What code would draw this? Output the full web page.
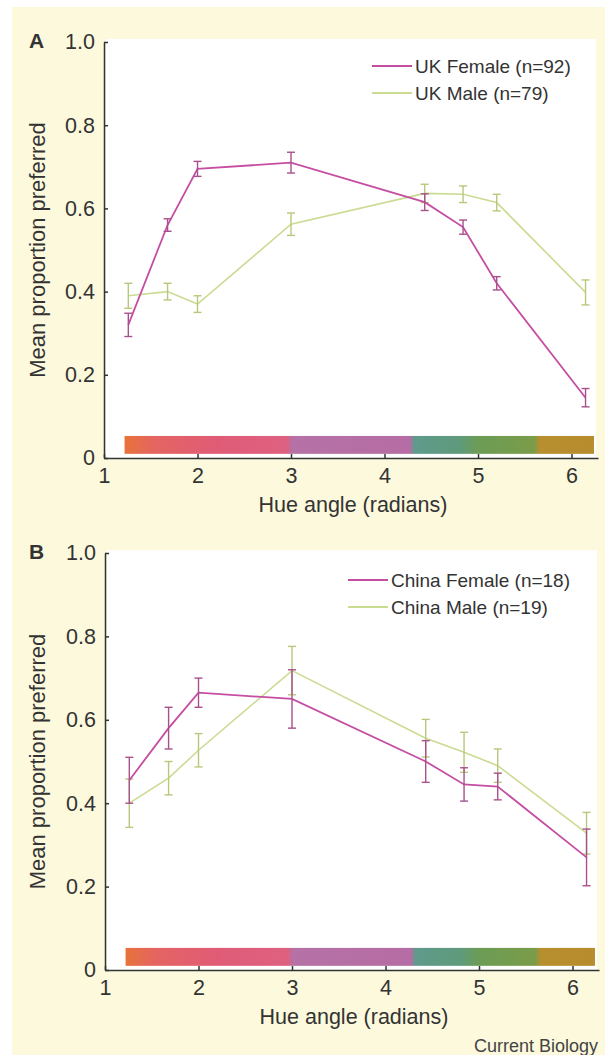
<!DOCTYPE html>
<html>
<head>
<meta charset="utf-8">
<script src="https://cdn.jsdelivr.net/npm/d3@7"></script>
<style>
  body { margin: 0; background: #fff; }
  svg { display: block; font-family: 'Liberation Sans', Arial, sans-serif; }
</style>
</head>
<body>
<div id="chart"></div>
<script>
// hue angle of each stimulus (radians)
var hueAngles = [1.26, 1.68, 2.0, 3.0, 4.43, 4.84, 5.2, 6.15]

// panel A, UK
var ukFemaleMean = [0.32, 0.56, 0.695, 0.71, 0.615, 0.555, 0.42, 0.145]
var ukFemaleErr = [0.028, 0.015, 0.018, 0.025, 0.02, 0.017, 0.016, 0.022]
var ukMaleMean = [0.39, 0.40, 0.37, 0.562, 0.636, 0.634, 0.614, 0.398]
var ukMaleErr = [0.03, 0.02, 0.02, 0.027, 0.022, 0.02, 0.02, 0.03]

// panel B, China
var cnFemaleMean = [0.455, 0.58, 0.665, 0.65, 0.50, 0.445, 0.44, 0.27]
var cnFemaleErr = [0.055, 0.05, 0.035, 0.07, 0.05, 0.04, 0.032, 0.068]
var cnMaleMean = [0.40, 0.46, 0.527, 0.718, 0.556, 0.522, 0.49, 0.328]
var cnMaleErr = [0.058, 0.04, 0.04, 0.058, 0.045, 0.048, 0.04, 0.05]

var yTicks = [0, 0.2, 0.4, 0.6, 0.8, 1.0]
var xTicks = [1, 2, 3, 4, 5, 6]

// colour strip under the curves: hue angle -> colour
var stripStops = [1.22, 1.55, 2.2, 2.95, 3.02, 4.27, 4.32, 4.8, 5.0, 5.6, 5.66, 6.24]
var stripColors = ['#e8733a', '#e46462', '#e05c76', '#de6080', '#b572a6', '#b66ca4',
  '#5f9a8c', '#5f9a7c', '#6c9c56', '#7a9c48', '#b88f2e', '#b68c2c']

var femaleColor = '#c54ea2'
var femaleBar = '#a8508c'
var maleColor = '#cadb92'
var maleBar = '#b8c87a'

var width = 605
var height = 1055

var svg = d3
  .select('#chart')
  .append('svg')
  .attr('width', width)
  .attr('height', height)

// cream page
svg
  .append('rect')
  .attr('x', 12)
  .attr('y', 7)
  .attr('width', width - 12)
  .attr('height', height - 7)
  .attr('fill', '#fcf9dd')

var defs = svg.append('defs')

var panels = [
  {
    letter: 'A',
    top: 42,
    bottom: 458,
    left: 104,
    right: 598,
    female: ukFemaleMean,
    femaleErr: ukFemaleErr,
    male: ukMaleMean,
    maleErr: ukMaleErr,
    femaleLabel: 'UK Female (n=92)',
    maleLabel: 'UK Male (n=79)',
    legendX: 372,
    legendY: 66
  },
  {
    letter: 'B',
    top: 553,
    bottom: 970,
    left: 105,
    right: 599,
    female: cnFemaleMean,
    femaleErr: cnFemaleErr,
    male: cnMaleMean,
    maleErr: cnMaleErr,
    femaleLabel: 'China Female (n=18)',
    maleLabel: 'China Male (n=19)',
    legendX: 348,
    legendY: 580
  }
]

panels.forEach(function(p, i) {
  var xPositionScale = d3
    .scaleLinear()
    .domain([1, 2 * Math.PI])
    .range([p.left, p.right])
  var yPositionScale = d3
    .scaleLinear()
    .domain([0, 1])
    .range([p.bottom, p.top])

  var g = svg.append('g')

  // white plotting area
  g.append('rect')
    .attr('x', p.left + 2)
    .attr('y', p.top - 3)
    .attr('width', p.right - p.left - 4)
    .attr('height', p.bottom - p.top + 3)
    .attr('fill', '#fff')

  // hue strip
  var gradId = 'strip' + i
  var x0 = xPositionScale(stripStops[0])
  var x1 = xPositionScale(stripStops[stripStops.length - 1])
  defs
    .append('linearGradient')
    .attr('id', gradId)
    .attr('gradientUnits', 'userSpaceOnUse')
    .attr('x1', x0)
    .attr('x2', x1)
    .attr('y1', 0)
    .attr('y2', 0)
    .selectAll('stop')
    .data(stripStops)
    .enter()
    .append('stop')
    .attr('offset', d => (xPositionScale(d) - x0) / (x1 - x0))
    .attr('stop-color', (d, k) => stripColors[k])

  g.append('rect')
    .attr('x', x0)
    .attr('width', x1 - x0)
    .attr('y', yPositionScale(0.053))
    .attr('height', yPositionScale(0.01) - yPositionScale(0.053))
    .attr('fill', 'url(#' + gradId + ')')

  // axes
  var xAxis = d3
    .axisBottom(xPositionScale)
    .tickValues(xTicks)
    .tickFormat(d3.format('d'))
    .tickSize(-4)
    .tickSizeOuter(0)
    .tickPadding(10)
  g.append('g')
    .attr('class', 'axis x-axis')
    .attr('transform', 'translate(0,' + p.bottom + ')')
    .call(xAxis)

  var yAxis = d3
    .axisLeft(yPositionScale)
    .tickValues(yTicks)
    .tickFormat(d => (d === 0 ? '0' : d3.format('.1f')(d)))
    .tickSize(-4)
    .tickSizeOuter(0)
    .tickPadding(9)
  g.append('g')
    .attr('class', 'axis y-axis')
    .attr('transform', 'translate(' + p.left + ',0)')
    .call(yAxis)

  g.selectAll('.axis path, .axis line')
    .attr('stroke', '#333')
    .attr('stroke-width', 1.5)
  g.selectAll('.axis text')
    .attr('font-size', 21.5)
    .attr('fill', '#333')
    .attr('font-family', "'Liberation Sans', Arial, sans-serif")

  // series
  var series = [
    { mean: p.male, err: p.maleErr, color: maleColor, bar: maleBar, width: 1.6 },
    { mean: p.female, err: p.femaleErr, color: femaleColor, bar: femaleBar, width: 1.8 }
  ]

  var line = d3
    .line()
    .x(d => xPositionScale(d[0]))
    .y(d => yPositionScale(d[1]))

  series.forEach(function(s) {
    var pts = hueAngles.map((h, k) => [h, s.mean[k], s.err[k]])
    g.append('path')
      .datum(pts)
      .attr('d', line)
      .attr('fill', 'none')
      .attr('stroke', s.color)
      .attr('stroke-width', s.width)

    var eb = g
      .append('g')
      .selectAll('g')
      .data(pts)
      .enter()
      .append('g')
      .attr('stroke', s.bar)
      .attr('stroke-width', 1.4)
    eb.append('line')
      .attr('x1', d => xPositionScale(d[0]))
      .attr('x2', d => xPositionScale(d[0]))
      .attr('y1', d => yPositionScale(d[1] - d[2]))
      .attr('y2', d => yPositionScale(d[1] + d[2]))
    eb.append('line')
      .attr('x1', d => xPositionScale(d[0]) - 4)
      .attr('x2', d => xPositionScale(d[0]) + 4)
      .attr('y1', d => yPositionScale(d[1] - d[2]))
      .attr('y2', d => yPositionScale(d[1] - d[2]))
    eb.append('line')
      .attr('x1', d => xPositionScale(d[0]) - 4)
      .attr('x2', d => xPositionScale(d[0]) + 4)
      .attr('y1', d => yPositionScale(d[1] + d[2]))
      .attr('y2', d => yPositionScale(d[1] + d[2]))
  })

  // legend
  var legend = [
    { label: p.femaleLabel, color: femaleColor },
    { label: p.maleLabel, color: maleColor }
  ]
  var lg = g
    .selectAll('.legend')
    .data(legend)
    .enter()
    .append('g')
    .attr('transform', (d, k) => 'translate(' + p.legendX + ',' + (p.legendY + k * 27) + ')')
  lg.append('line')
    .attr('x1', 0)
    .attr('x2', 40)
    .attr('stroke', d => d.color)
    .attr('stroke-width', 1.8)
  lg.append('text')
    .text(d => d.label)
    .attr('x', 43)
    .attr('y', 7)
    .attr('font-size', 19)
    .attr('fill', '#333')

  // panel letter
  g.append('text')
    .text(p.letter)
    .attr('x', 29)
    .attr('y', p.top + 6)
    .attr('font-size', 21)
    .attr('font-weight', 'bold')
    .attr('fill', '#333')

  // axis titles
  g.append('text')
    .text('Hue angle (radians)')
    .attr('x', (p.left + p.right) / 2 + 2)
    .attr('y', p.bottom + 54)
    .attr('text-anchor', 'middle')
    .attr('font-size', 21.5)
    .attr('fill', '#333')

  g.append('text')
    .text('Mean proportion preferred')
    .attr('transform', 'translate(45,' + (p.top + p.bottom) / 2 + ') rotate(-90)')
    .attr('text-anchor', 'middle')
    .attr('font-size', 22)
    .attr('fill', '#333')
})

svg
  .append('text')
  .text('Current Biology')
  .attr('x', 598)
  .attr('y', 1052)
  .attr('text-anchor', 'end')
  .attr('font-size', 18)
  .attr('fill', '#444')
</script>
</body>
</html>
